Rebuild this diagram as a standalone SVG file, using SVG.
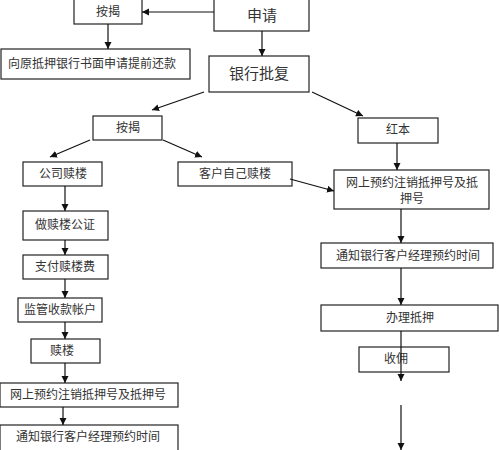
<svg xmlns="http://www.w3.org/2000/svg" width="499" height="450" viewBox="0 0 499 450">
<style>
.box{fill:#fff;stroke:#222;stroke-width:1.2}
.t{font-family:"Noto Sans CJK SC","Noto Sans CJK JP",serif;font-size:12px;fill:#333;text-anchor:middle}
.big{font-size:15px}
.c{stroke:#111;stroke-width:1.2;fill:none;marker-end:url(#ah)}
</style>
<defs>
<marker id="ah" markerUnits="userSpaceOnUse" markerWidth="8" markerHeight="8" refX="7" refY="3.5" orient="auto">
<path d="M0,0 L7,3.5 L0,7 Z" fill="#111"/>
</marker>
</defs>
<rect width="499" height="450" fill="#fff"/>
<g id="n1"><rect class="box" x="74" y="-1" width="68" height="25"/><text class="t" x="108" y="16">按揭</text></g>
<g id="n2"><rect class="box" x="214" y="-1" width="95" height="32"/><text class="t big" x="262" y="21">申请</text></g>
<g id="n3"><rect class="box" x="1" y="49" width="189" height="30"/><text class="t" x="92" y="68">向原抵押银行书面申请提前还款</text></g>
<g id="n4"><rect class="box" x="209" y="56" width="100" height="36"/><text class="t big" x="259" y="79">银行批复</text></g>
<g id="n5"><rect class="box" x="93" y="116" width="69" height="24"/><text class="t" x="128" y="132">按揭</text></g>
<g id="n6"><rect class="box" x="358" y="118" width="80" height="25"/><text class="t" x="398" y="134">红本</text></g>
<g id="n7"><rect class="box" x="23" y="162" width="79" height="24"/><text class="t" x="63" y="178">公司赎楼</text></g>
<g id="n8"><rect class="box" x="178" y="162" width="114" height="24"/><text class="t" x="235" y="178">客户自己赎楼</text></g>
<g id="n9"><rect class="box" x="334" y="170" width="155" height="39"/><text class="t" x="412" y="186.5">网上预约注销抵押号及抵</text><text class="t" x="412" y="203">押号</text></g>
<g id="n10"><rect class="box" x="321" y="243" width="172" height="25"/><text class="t" x="408" y="260">通知银行客户经理预约时间</text></g>
<g id="n11"><rect class="box" x="321" y="305" width="177" height="26"/><text class="t" x="410" y="322">办理抵押</text></g>
<g id="n12"><rect class="box" x="359" y="347" width="90" height="25"/><text class="t" x="396" y="363">收佣</text></g>
<g id="n13"><rect class="box" x="23" y="211" width="85" height="29"/><text class="t" x="65" y="229">做赎楼公证</text></g>
<g id="n14"><rect class="box" x="23" y="255" width="85" height="24"/><text class="t" x="65" y="271">支付赎楼费</text></g>
<g id="n15"><rect class="box" x="18" y="298" width="84" height="24"/><text class="t" x="60" y="314">监管收款帐户</text></g>
<g id="n16"><rect class="box" x="31" y="339" width="69" height="24"/><text class="t" x="62" y="355">赎楼</text></g>
<g id="n17"><rect class="box" x="0" y="383" width="178" height="24"/><text class="t" x="88" y="399">网上预约注销抵押号及抵押号</text></g>
<g id="n18"><rect class="box" x="0" y="425" width="178" height="30"/><text class="t" x="88" y="441">通知银行客户经理预约时间</text></g>
<g id="connectors">
<path class="c" d="M214,12 L142,12"/>
<path class="c" d="M108,24 L108,49"/>
<path class="c" d="M262,31 L262,56"/>
<path class="c" d="M204,92 L152,110"/>
<path class="c" d="M312,92 L363,116"/>
<path class="c" d="M90,140 L50,157"/>
<path class="c" d="M163,140 L202,157"/>
<path class="c" d="M290,179 L334,191"/>
<path class="c" d="M397,143 L397,170"/>
<path class="c" d="M401,209 L401,243"/>
<path class="c" d="M401,268 L401,305"/>
<path class="c" d="M401,331 L401,381"/>
<path class="c" d="M401,405 L401,450"/>
<path class="c" d="M65,186 L65,211"/>
<path class="c" d="M65,240 L65,255"/>
<path class="c" d="M65,279 L65,298"/>
<path class="c" d="M65,322 L65,339"/>
<path class="c" d="M65,363 L65,383"/>
<path class="c" d="M63,407 L63,425"/>
</g>
</svg>
